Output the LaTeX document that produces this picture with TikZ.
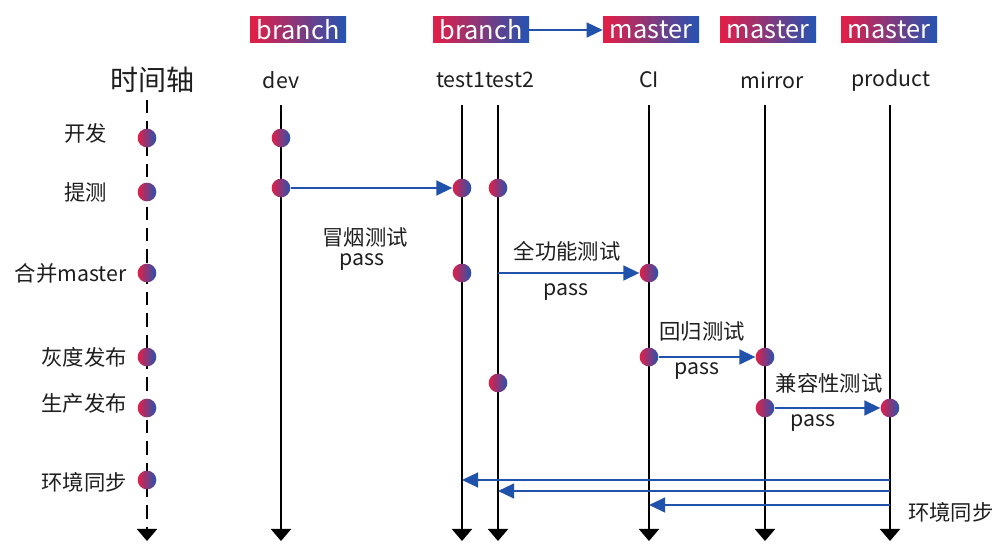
\documentclass[tikz,border=0pt]{standalone}
\usepackage{fontspec}
\setmainfont{Noto Sans CJK SC}
\usetikzlibrary{arrows.meta}
\definecolor{gr}{RGB}{228,30,70}
\definecolor{gb}{RGB}{36,84,178}
\definecolor{ab}{RGB}{32,82,172}
\definecolor{tx}{RGB}{30,30,30}
\begin{document}
\begin{tikzpicture}[x=0.75pt,y=-0.75pt,
  tag/.style={left color=gr,right color=gb,text=white,font=\fontsize{19}{20}\selectfont,minimum width=72pt,minimum height=19.5pt,inner sep=0pt},
  dot/.style={circle,left color=gr,right color=gb,minimum size=14pt,inner sep=0pt},
  lab/.style={text=tx,font=\fontsize{16}{18}\selectfont,inner sep=0pt},
  lane/.style={line width=1.5pt,-{Triangle[width=15pt,length=9pt]}},
  flow/.style={draw=ab,line width=1.8pt,-{Triangle[width=11pt,length=12pt]}},
  sync/.style={draw=ab,line width=1.6pt,-{Triangle[width=11pt,length=12pt]}},
]
\useasboundingbox (0,0) rectangle (1000,548);
\fill[white] (0,0) rectangle (1000,548);

% tags
\node[tag] (b1) at (298,30) {branch};
\node[tag] (b2) at (481,30) {branch};
\node[tag] (m1) at (651,30) {master};
\node[tag] (m2) at (768,30) {master};
\node[tag] (m3) at (889,30) {master};
\draw[flow] (b2) -- (m1);

% column titles
\node[lab,font=\fontsize{21}{24}\selectfont] (tl) at (152,80) {时间轴};
\node[lab] (cdev) at (281,80) {dev};
\node[lab] (ctest) at (485,80) {test1test2};
\node[lab] (cci) at (649,80) {CI};
\node[lab] (cmir) at (772,80) {mirror};
\node[lab] (cprod) at (891,80) {product};

% lanes
\coordinate (ta) at (147,100); \coordinate (tb) at (147,541);
\draw[lane,dash pattern=on 10pt off 6pt] (ta) -- (tb);
\foreach \n/\x in {dev/281,t1/462,t2/498,ci/649,mir/765,prod/890}{
  \coordinate (\n top) at (\x,105);
  \coordinate (\n bot) at (\x,541);
  \draw[lane] (\n top) -- (\n bot);
}

% sync arrows
\coordinate (s1a) at (890,480); \coordinate (s1b) at (462,480);
\coordinate (s2a) at (890,491); \coordinate (s2b) at (498,491);
\coordinate (s3a) at (890,505); \coordinate (s3b) at (649,505);
\draw[sync] (s1a) -- (s1b);
\draw[sync] (s2a) -- (s2b);
\draw[sync] (s3a) -- (s3b);
\node[lab,anchor=west] (syl) at (908,512) {环境同步};

% time axis dots and labels
\node[dot] (a1) at (147,138) {};
\node[dot] (a2) at (147,192) {};
\node[dot] (a3) at (147,273) {};
\node[dot] (a4) at (147,357) {};
\node[dot] (a5) at (147,408) {};
\node[dot] (a6) at (147,480) {};
\node[lab,anchor=east] (l1) at (107,133) {开发};
\node[lab,anchor=east] (l2) at (107,192) {提测};
\node[lab,anchor=east] (l3) at (127,273) {合并master};
\node[lab,anchor=east] (l4) at (127,357) {灰度发布};
\node[lab,anchor=east] (l5) at (127,403) {生产发布};
\node[lab,anchor=east] (l6) at (127,482) {环境同步};

% lane dots
\node[dot] (d1) at (281,138) {};
\node[dot] (d2) at (281,188) {};
\node[dot] (t1a) at (462,188) {};
\node[dot] (t1b) at (462,273) {};
\node[dot] (t2a) at (498,188) {};
\node[dot] (t2b) at (498,383) {};
\node[dot] (c1) at (649,273) {};
\node[dot] (c2) at (649,357) {};
\node[dot] (r1) at (765,357) {};
\node[dot] (r2) at (765,408) {};
\node[dot] (p1) at (890,408) {};
\coordinate (t2m) at (498,273);

% flows
\draw[flow] (d2) -- (t1a);
\draw[flow] (t2m) -- (c1);
\draw[flow] (c2) -- (r1);
\draw[flow] (r2) -- (p1);

% flow labels
\node[lab] (f1a) at (365,237) {冒烟测试};
\node[lab] (f1b) at (362,262) {pass};
\node[lab] (f2a) at (567,251) {全功能测试};
\node[lab] (f2b) at (566,292) {pass};
\node[lab] (f3a) at (702,331) {回归测试};
\node[lab] (f3b) at (697,371) {pass};
\node[lab] (f4a) at (829,383) {兼容性测试};
\node[lab] (f4b) at (813,423) {pass};
\end{tikzpicture}
\end{document}
